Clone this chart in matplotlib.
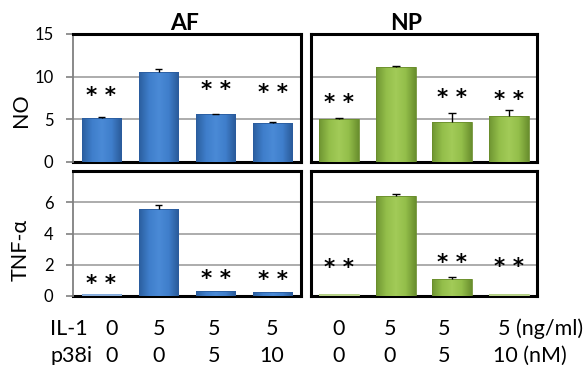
import matplotlib
matplotlib.use("Agg")
import matplotlib.pyplot as plt
import numpy as np
from matplotlib.colors import LinearSegmentedColormap

# ---------------- data ----------------
groups = ["AF", "NP"]
conditions = ["c1", "c2", "c3", "c4"]
il1_labels = ["0", "5", "5", "5"]
p38_labels = ["0", "0", "5", "10"]

no_af = [5.1, 10.6, 5.6, 4.6]
no_af_err = [0.2, 0.3, 0.05, 0.08]
no_np = [5.0, 11.1, 4.7, 5.4]
no_np_err = [0.15, 0.1, 1.0, 0.7]

tnf_af = [0.15, 5.6, 0.33, 0.28]
tnf_af_err = [0.0, 0.2, 0.0, 0.0]
tnf_np = [0.15, 6.4, 1.12, 0.15]
tnf_np_err = [0.0, 0.1, 0.08, 0.0]

# levels of the "**" significance marks (bars 1, 3, 4)
no_af_star = [7.7, None, 8.4, 8.1]
no_np_star = [6.9, None, 7.5, 7.3]
tnf_af_star = [0.8, None, 1.1, 1.0]
tnf_np_star = [1.8, None, 2.1, 1.85]

# ---------------- style ----------------
W, H = 587, 365
FONT = ["Lato", "DejaVu Sans"]
plt.rcParams["font.family"] = FONT

BLUE_CM = LinearSegmentedColormap.from_list(
    "b", ["#2B5F9F", "#3F7ECB", "#4A8AD6", "#3F7ECB", "#2A5A98"])
GREEN_CM = LinearSegmentedColormap.from_list(
    "g", ["#6F9532", "#93BE4A", "#A2CB58", "#93BE4A", "#6A8F2E"])
BLUE_EDGE = "#2A5C9E"
GREEN_EDGE = "#6A8D2C"
GRID = "#A6A6A6"

fig = plt.figure(figsize=(W / 100, H / 100), dpi=100)


def ax_px(x0, y0, x1, y1):
    return fig.add_axes([x0 / W, 1 - y1 / H, (x1 - x0) / W, (y1 - y0) / H])


ax_no_af = ax_px(73, 34, 301, 162)
ax_no_np = ax_px(311, 34, 537, 162)
ax_tnf_af = ax_px(73, 171, 301, 296)
ax_tnf_np = ax_px(311, 171, 537, 296)

x = np.arange(len(conditions))
grad = np.linspace(0, 1, 64).reshape(1, -1)


def draw(ax, vals, errs, stars, cmap, edge, ylim, ticks, left):
    ax.set_xlim(-0.5, 3.5)
    ax.set_ylim(*ylim)
    bars = ax.bar(x, vals, width=0.7, color="none", edgecolor=edge, linewidth=0.6, zorder=3)
    for b in bars:
        bx, by = b.get_x(), b.get_y()
        bw, bh = b.get_width(), b.get_height()
        im = ax.imshow(grad, cmap=cmap, aspect="auto", extent=[bx, bx + bw, by, by + bh],
                       zorder=2.5, interpolation="bilinear")
        im.set_clip_path(b)
    ax.set_xlim(-0.5, 3.5)
    ax.set_ylim(*ylim)
    for i, (v, e) in enumerate(zip(vals, errs)):
        if e > 0:
            ax.vlines(x[i], v, v + e, color="black", lw=1.0, zorder=4)
            ax.hlines(v + e, x[i] - 0.07, x[i] + 0.07, color="black", lw=1.0, zorder=4)
    for i, s in enumerate(stars):
        if s is not None:
            ax.text(x[i], s, "* *", ha="center", va="center", fontsize=15.5,
                    family=["DejaVu Sans"], fontweight="bold", zorder=5)
    ax.set_yticks(ticks)
    for t in ticks[1:]:
        ax.axhline(t, color=GRID, lw=1.3, zorder=1)
    ax.set_xticks([])
    for sp in ["top", "right", "bottom"]:
        ax.spines[sp].set_color("black")
        ax.spines[sp].set_linewidth(2.2)
    if left:
        ax.spines["left"].set_color("#808080")
        ax.spines["left"].set_linewidth(1.3)
        ax.tick_params(axis="y", direction="out", length=5, width=1.2, color="#808080",
                       labelsize=12, pad=9)
    else:
        ax.spines["left"].set_color("black")
        ax.spines["left"].set_linewidth(2.2)
        ax.tick_params(axis="y", length=0, labelleft=False)
    ax.spines["bottom"].set_zorder(2)
    return bars


draw(ax_no_af, no_af, no_af_err, no_af_star, BLUE_CM, BLUE_EDGE, (0, 15), [0, 5, 10, 15], True)
draw(ax_no_np, no_np, no_np_err, no_np_star, GREEN_CM, GREEN_EDGE, (0, 15), [0, 5, 10, 15], False)
b1 = draw(ax_tnf_af, tnf_af, tnf_af_err, tnf_af_star, BLUE_CM, BLUE_EDGE, (0, 8), [0, 2, 4, 6], True)
b2 = draw(ax_tnf_np, tnf_np, tnf_np_err, tnf_np_star, GREEN_CM, GREEN_EDGE, (0, 8), [0, 2, 4, 6], False)
# pale near-zero bars
for b, c in [(b1[0], "#8DB1DE"), (b2[0], "#B9D38C"), (b2[3], "#B9D38C")]:
    b.set_facecolor(c)
    b.set_edgecolor(c)
    b.set_zorder(3.5)


def ftext(px, py, s, **kw):
    fig.text(px / W, 1 - py / H, s, **kw)


ftext(185, 24, groups[0], ha="center", va="center", fontsize=16.5, fontweight="bold")
ftext(406, 24, groups[1], ha="center", va="center", fontsize=16.5, fontweight="bold")
ftext(21, 110, "NO", ha="center", va="center", rotation=90, fontsize=15.5)
ftext(21, 250, "TNF-\u03b1", ha="center", va="center", rotation=90, fontsize=15.5)

fs = 15.5
row1, row2 = 335, 362
ftext(50, row1, "IL-1", ha="left", va="baseline", fontsize=fs)
ftext(50, row2, "p38i", ha="left", va="baseline", fontsize=fs)
left_x = [112, 159, 214, 272]
right_x = [339, 390, 444, 503]
for px, a, b in zip(left_x, il1_labels, p38_labels):
    ftext(px, row1, a, ha="center", va="baseline", fontsize=fs)
    ftext(px, row2, b, ha="center", va="baseline", fontsize=fs)
for px, a, b in zip(right_x[:3], il1_labels[:3], p38_labels[:3]):
    ftext(px, row1, a, ha="center", va="baseline", fontsize=fs)
    ftext(px, row2, b, ha="center", va="baseline", fontsize=fs)
ftext(498, row1, il1_labels[3] + " (ng/ml)", ha="left", va="baseline", fontsize=fs)
ftext(493, row2, p38_labels[3] + " (nM)", ha="left", va="baseline", fontsize=fs)

fig.savefig("out.png", dpi=100)
